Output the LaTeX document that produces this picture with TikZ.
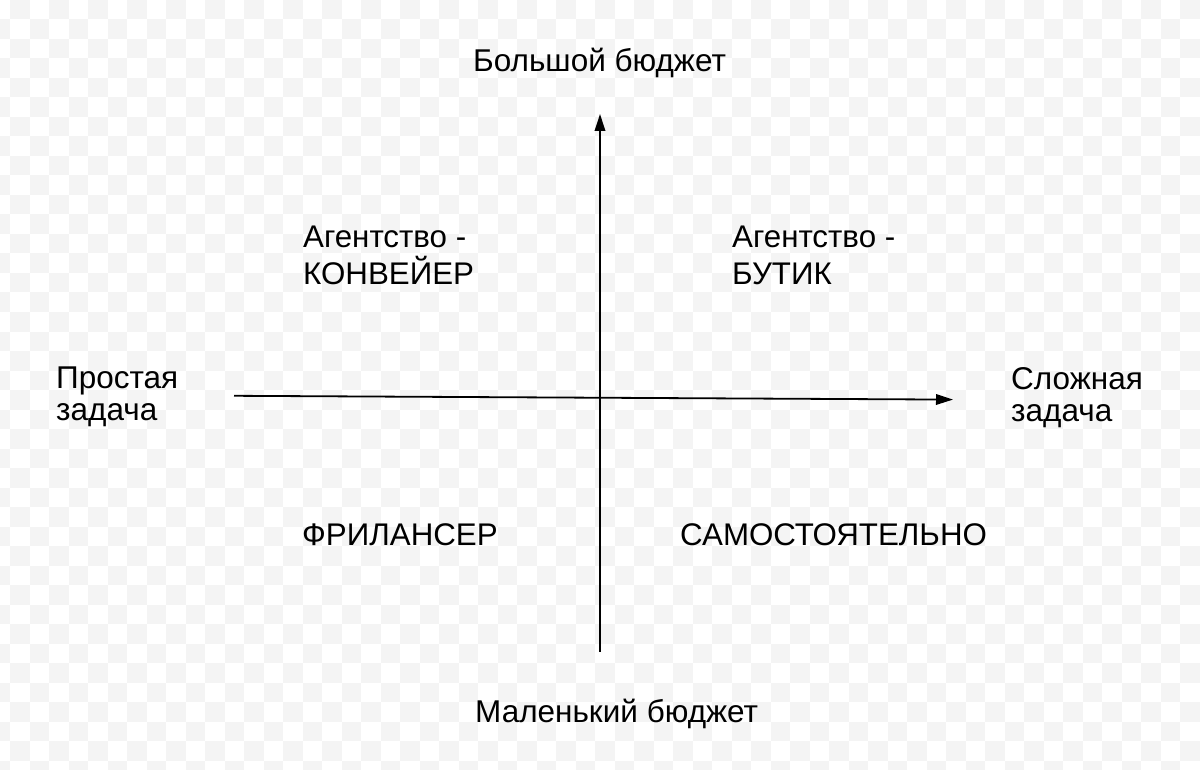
\documentclass[tikz,border=0pt]{standalone}
\usepackage{fontspec}
\setmainfont{Liberation Sans}
\usetikzlibrary{arrows.meta}
\definecolor{checkgray}{HTML}{F4F4F4}
\tikzset{
  axislbl/.style={inner sep=0pt, anchor=base west, align=left, font=\fontsize{31.5}{32}\selectfont},
  quadlbl/.style={inner sep=0pt, anchor=base west, align=left, font=\fontsize{31.3}{38}\selectfont},
  axisline/.style={line width=1.8pt, -{Triangle[length=17pt,width=10.5pt]}}
}
\begin{document}
\begin{tikzpicture}[x=1pt,y=-1pt]
\useasboundingbox (0,0) rectangle (1200,770);
\fill[white] (0,0) rectangle (1200,770);
% checkerboard background
\begin{scope}
\clip (0,0) rectangle (1200,770);
\foreach \r in {0,...,39}{
  \foreach \c in {-1,...,31}{
    \pgfmathsetmacro{\xx}{10+39*\c+mod(\r,2)*(-19.5)}
    \pgfmathsetmacro{\yy}{19.5*\r}
    \fill[checkgray] (\xx,\yy) rectangle ++(19.5,19.5);
  }
}
\end{scope}
% axes
\coordinate (vbot) at (600,651.5);
\coordinate (vtop) at (600,114);
\coordinate (hleft) at (234,395.8);
\coordinate (hright) at (953,399.6);
\draw[axisline] (vbot) -- (vtop);
\draw[axisline] (hleft) -- (hright);
% axis labels
\node[axislbl] (top) at (473,72) {Большой бюджет};
\node[axislbl] (bottom) at (475,722) {Маленький бюджет};
\node[axislbl] (left) at (56,420) {Простая\\задача};
\node[axislbl] (right) at (1011,421) {Сложная\\задача};
% quadrant labels
\node[quadlbl] (q1) at (303,285) {Агентство -\\КОНВЕЙЕР};
\node[quadlbl] (q2) at (732,285) {Агентство -\\БУТИК};
\node[quadlbl] (q3) at (302,545) {ФРИЛАНСЕР};
\node[quadlbl] (q4) at (680,545) {САМОСТОЯТЕЛЬНО};
\end{tikzpicture}
\end{document}
